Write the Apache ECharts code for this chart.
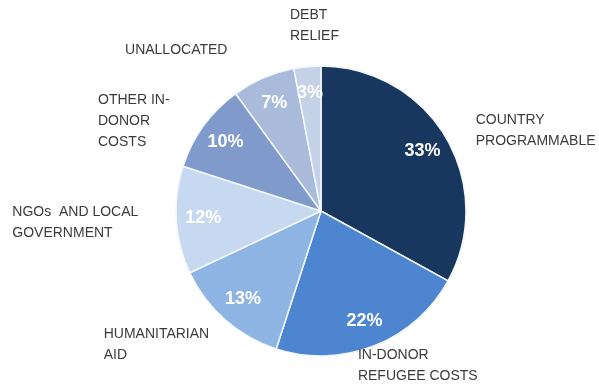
<!DOCTYPE html>
<html>
<head>
<meta charset="utf-8">
<script src="https://cdn.jsdelivr.net/npm/echarts@6/dist/echarts.min.js"></script>
<style>
  html, body { margin: 0; padding: 0; background: #ffffff; }
  #chart { width: 599px; height: 387px; }
</style>
</head>
<body>
<div id="chart"></div>
<script>
// Aid categories and their share of the total (%)
const categories = [
  'COUNTRY\nPROGRAMMABLE',
  'IN-DONOR\nREFUGEE COSTS',
  'HUMANITARIAN\nAID',
  'NGOs  AND LOCAL\nGOVERNMENT',
  'OTHER IN-\nDONOR\nCOSTS',
  'UNALLOCATED',
  'DEBT\nRELIEF'
];
const shares = [33, 22, 13, 12, 10, 7, 3];

// Styling
const sliceColors = ['#17375e', '#4d85d1', '#8db4e2', '#c6d9f0', '#7f9acb', '#a9badb', '#c5d1e7'];
const CX = 321, CY = 211, R = 145;
const NAME_GAP = 15;
// fine adjustment of each category label relative to its slice anchor
const nameNudge = [[17, 1], [-22, 6], [-6, 14], [-23, 2], [-22, 4], [-30, -14], [33, -26]];

const total = shares.reduce((a, b) => a + b, 0);
function midDirection(i) {
  const before = shares.slice(0, i).reduce((a, b) => a + b, 0);
  const ang = (before + shares[i] / 2) / total * Math.PI * 2;
  return [Math.sin(ang), -Math.cos(ang)];
}

const pieData = categories.map((name, i) => ({
  name: name,
  value: shares[i],
  itemStyle: { color: sliceColors[i] }
}));

const chart = echarts.init(document.getElementById('chart'), null, { renderer: 'canvas' });
chart.setOption({
  backgroundColor: '#ffffff',
  animation: false,
  series: [
    {
      type: 'pie',
      center: [CX, CY],
      radius: [0, R],
      startAngle: 90,
      clockwise: true,
      avoidLabelOverlap: false,
      itemStyle: { borderColor: '#f4f8fd', borderWidth: 1.5 },
      emphasis: { disabled: true },
      label: {
        show: true,
        position: 'outside',
        formatter: p => p.name,
        fontFamily: 'Liberation Sans',
        fontSize: 14,
        lineHeight: 21,
        color: '#3b3b3b'
      },
      labelLine: { show: false },
      labelLayout: function (p) {
        const i = p.dataIndex;
        const d = midDirection(i);
        const ax = CX + (R + NAME_GAP) * d[0] + nameNudge[i][0];
        const ay = CY + (R + NAME_GAP) * d[1] + nameNudge[i][1];
        const left = d[0] >= 0 ? ax : ax - p.labelRect.width;
        return { x: left, y: ay, align: 'left', verticalAlign: 'middle' };
      },
      data: pieData
    },
    {
      // percentage labels inside the slices
      type: 'pie',
      center: [CX, CY],
      radius: [85, R],
      startAngle: 90,
      clockwise: true,
      silent: true,
      avoidLabelOverlap: false,
      itemStyle: { color: 'rgba(0,0,0,0)', borderWidth: 0 },
      emphasis: { disabled: true },
      label: {
        show: true,
        position: 'inside',
        formatter: p => p.value + '%',
        fontFamily: 'Liberation Sans',
        fontWeight: 'bold',
        fontSize: 18,
        color: '#ffffff'
      },
      labelLine: { show: false },
      data: categories.map((name, i) => ({ name: name, value: shares[i] }))
    }
  ]
});
</script>
</body>
</html>
